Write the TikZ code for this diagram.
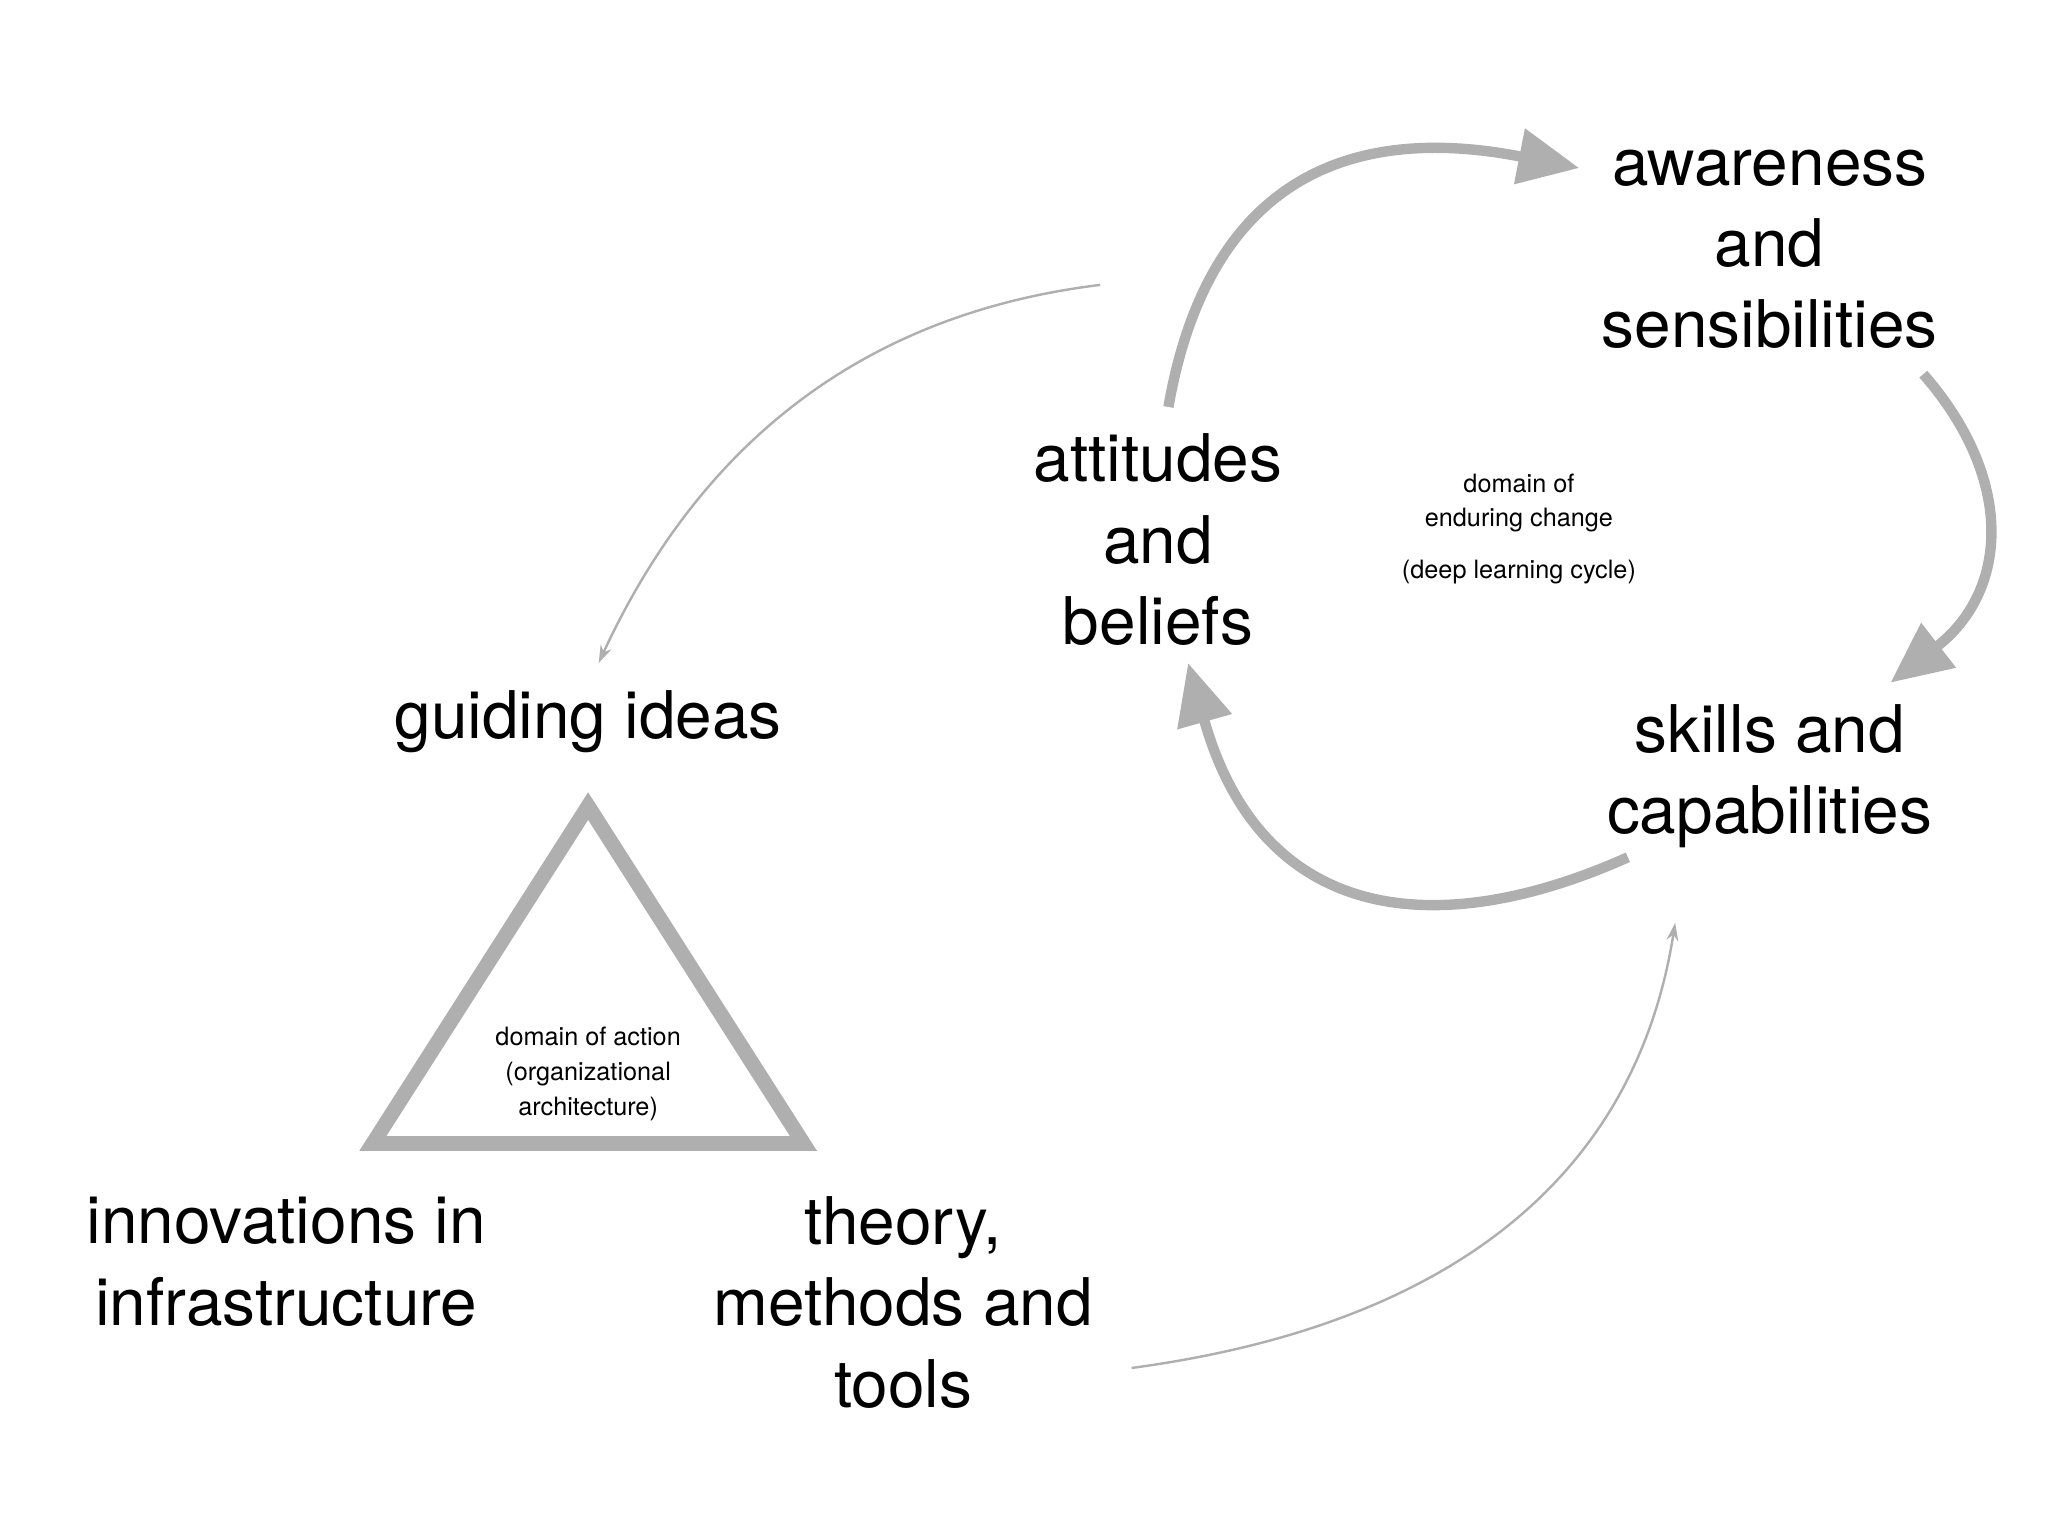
\documentclass[tikz,border=0pt]{standalone}
\usepackage{fontspec}
\setmainfont{TeX Gyre Heros}
\usetikzlibrary{arrows.meta}
\definecolor{gr}{RGB}{175,175,175}
\begin{document}
\begin{tikzpicture}[x=0.01333cm,y=-0.01333cm,
  big/.style={align=center,font=\fontsize{19}{23.5}\selectfont},
  small/.style={align=center,font=\fontsize{7.3}{10}\selectfont},
  thick arrow/.style={draw=gr,line width=3pt,-{Triangle[length=0.62cm,width=0.55cm]}},
  thin arrow/.style={draw=gr,line width=0.7pt,-{Stealth[length=0.18cm,width=0.12cm]}}]
\useasboundingbox (0,0) rectangle (1560,1170);
\node[big] (aw) at (1348,190) {awareness\\and\\sensibilities};
\node[big] (at) at (882,411) {attitudes\\and\\beliefs};
\node[big] (sk) at (1348,591) {skills and\\capabilities};
\node[big] (gi) at (448,550) {guiding ideas};
\node[big] (in) at (218,961) {innovations in\\infrastructure};
\node[big] (th) at (688,992) {theory,\\methods and\\tools};
\node[small] (de) at (1157,383) {domain of\\enduring change};
\node[small] (dl) at (1157,436) {(deep learning cycle)};
\node[small] (da) at (448,818) {domain of action\\(organizational\\architecture)};
\coordinate (t1) at (448,614);
\coordinate (t2) at (284,871);
\coordinate (t3) at (612,871);
\draw[gr,line width=4.3pt,line join=miter] (t1) -- (t2) -- (t3) -- cycle;
\coordinate (a1) at (890,310);
\coordinate (a2) at (1203,128);
\coordinate (b1) at (1465,285);
\coordinate (b2) at (1440,520);
\coordinate (c1) at (1240,653);
\coordinate (c2) at (905,505);
\coordinate (d1) at (838,217);
\coordinate (d2) at (456,505);
\coordinate (e1) at (862,1042);
\coordinate (e2) at (1276,703);
\draw[thick arrow] (a1) .. controls (925,110) and (1060,100) .. (a2);
\draw[thick arrow] (b1) .. controls (1535,365) and (1530,450) .. (b2);
\draw[thick arrow] (c1) .. controls (1090,720) and (960,700) .. (c2);
\draw[thin arrow] (d1) .. controls (650,240) and (530,345) .. (d2);
\draw[thin arrow] (e1) .. controls (1100,1010) and (1245,900) .. (e2);
\end{tikzpicture}
\end{document}
